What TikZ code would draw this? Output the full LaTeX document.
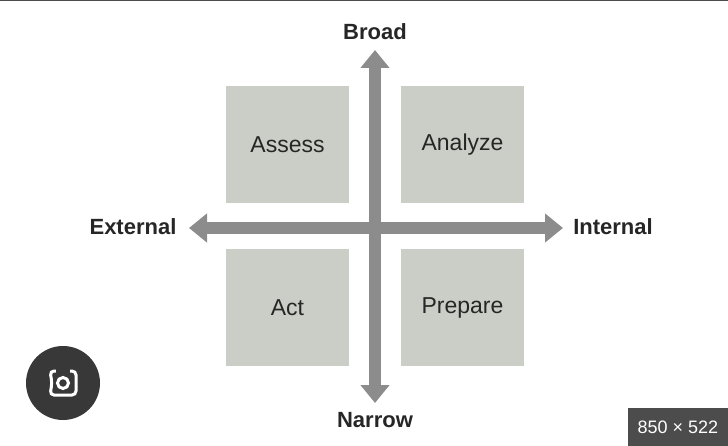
\documentclass[tikz,border=0pt]{standalone}
\usepackage{fontspec}
\setmainfont{Liberation Sans}
\usetikzlibrary{arrows.meta}
\definecolor{boxc}{HTML}{CBCEC6}
\definecolor{arrc}{HTML}{8C8C8C}
\begin{document}
\begin{tikzpicture}[x=1pt,y=-1pt,
  quad/.style={fill=boxc,draw=none,minimum width=123pt,minimum height=117pt,font=\fontsize{23}{26}\selectfont,text=black!85},
  axlab/.style={font=\bfseries\fontsize{22}{26}\selectfont,text=black!85},
  axis/.style={arrc,line width=12pt,{Triangle[width=28pt,length=18pt]}-{Triangle[width=28pt,length=18pt]}}]
\useasboundingbox[fill=white] (0,0) rectangle (728,446);
\draw[black!70,line width=1pt] (0,0.5) -- (728,0.5);
\node[quad] (assess) at (287.5,144.5) {Assess};
\node[quad] (analyze) at (462.5,144.5) {Analyze};
\node[quad] (act) at (287.5,307.5) {Act};
\node[quad] (prepare) at (462.5,307.5) {Prepare};
\coordinate (top) at (375,50);
\coordinate (bot) at (375,403);
\coordinate (left) at (189,228);
\coordinate (right) at (563,228);
\draw[axis] (top) -- (bot);
\draw[axis] (left) -- (right);
\node[axlab] (broad) at (375,32) {Broad};
\node[axlab] (narrow) at (375,420) {Narrow};
\node[axlab] (external) at (133,227) {External};
\node[axlab] (internal) at (613,227) {Internal};
\node[circle,fill=black!78,minimum size=74pt,inner sep=0] (lens) at (63,383) {};
\draw[white,line width=3pt,rounded corners=4pt] (52,383) -- (50,371) -- (76,371) -- (76,395) -- (50,395) -- cycle;
\fill[black!78] (56,368) rectangle (70,374);
\draw[white,line width=3pt] (63,383) circle (5.5pt);
\node[fill=black!70,text=white,minimum width=100pt,minimum height=38pt,inner sep=0,anchor=north east,font=\fontsize{18}{20}\selectfont] (badge) at (728,408) {850 × 522};
\end{tikzpicture}
\end{document}
